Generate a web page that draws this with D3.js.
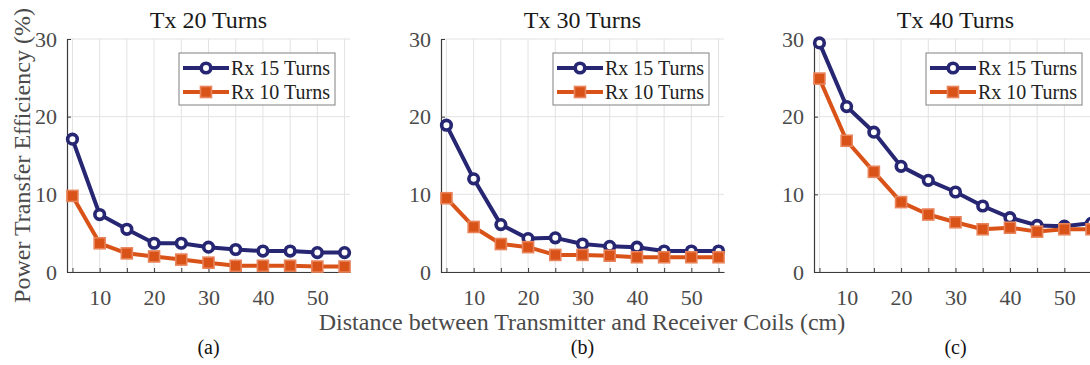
<!DOCTYPE html>
<html>
<head>
<meta charset="utf-8">
<script src="https://cdn.jsdelivr.net/npm/d3@7/dist/d3.min.js"></script>
<style>
  html, body { margin: 0; padding: 0; background: #fff; }
  svg { display: block; }
  text { font-family: "Liberation Serif", "Times New Roman", serif; }
</style>
</head>
<body>
<svg id="chart" width="1090" height="365"></svg>
<script>
// Distances between coils (cm)
const distances = [5, 10, 15, 20, 25, 30, 35, 40, 45, 50, 55];

// Efficiency (%) for each transmitter coil, per receiver coil
const tx20Rx15 = [17.1, 7.4, 5.5, 3.7, 3.7, 3.2, 2.9, 2.7, 2.7, 2.5, 2.5];
const tx20Rx10 = [9.8, 3.7, 2.4, 2.0, 1.6, 1.2, 0.8, 0.8, 0.8, 0.7, 0.7];
const tx30Rx15 = [18.9, 12.0, 6.1, 4.3, 4.4, 3.6, 3.3, 3.2, 2.7, 2.7, 2.7];
const tx30Rx10 = [9.5, 5.8, 3.6, 3.2, 2.2, 2.2, 2.1, 1.9, 1.9, 1.9, 1.9];
const tx40Rx15 = [29.5, 21.3, 18.0, 13.6, 11.8, 10.3, 8.5, 7.0, 6.0, 5.9, 6.3];
const tx40Rx10 = [24.9, 16.9, 12.9, 9.0, 7.4, 6.4, 5.5, 5.7, 5.2, 5.5, 5.5];

const panelTitles = ["Tx 20 Turns", "Tx 30 Turns", "Tx 40 Turns"];
const panelCaptions = ["(a)", "(b)", "(c)"];
const seriesNames = ["Rx 15 Turns", "Rx 10 Turns"];
const xTicks = [5, 10, 15, 20, 25, 30, 35, 40, 45, 50, 55];
const xTickLabels = ["", "10", "", "20", "", "30", "", "40", "", "50", ""];
const yTicks = [0, 10, 20, 30];
const yLabel = "Power Transfer Efficiency (%)";
const xLabel = "Distance between Transmitter and Receiver Coils (cm)";

const panels = [
  { title: panelTitles[0], caption: panelCaptions[0], series: [tx20Rx15, tx20Rx10] },
  { title: panelTitles[1], caption: panelCaptions[1], series: [tx30Rx15, tx30Rx10] },
  { title: panelTitles[2], caption: panelCaptions[2], series: [tx40Rx15, tx40Rx10] }
];

// Styling
const NAVY = "#262673";
const ORANGE = "#D95319";
const colors = [NAVY, ORANGE];
const GRID = "#e2e2e2";
const AXIS = "#3a3a3a";
const TICK_TEXT = "#4a4a4a";

const svg = d3.select("#chart");
svg.append("rect").attr("width", 1090).attr("height", 365).attr("fill", "#fff");

const panelLefts = [67, 441, 814];
const plotW = 283, plotTop = 39, plotBottom = 272;

const x = d3.scaleLinear().domain([4, 56]).range([0, plotW]);
const y = d3.scaleLinear().domain([0, 30]).range([plotBottom - plotTop, 0]);

const line = d3.line().x((d, i) => x(distances[i])).y(d => y(d));

function drawCircle(g, cx, cy) {
  g.append("circle").attr("cx", cx).attr("cy", cy).attr("r", 4.8)
    .attr("fill", "#fff").attr("stroke", NAVY).attr("stroke-width", 3.6);
}
function drawSquare(g, cx, cy) {
  const s = 11;
  g.append("rect").attr("x", cx - s / 2).attr("y", cy - s / 2)
    .attr("width", s).attr("height", s)
    .attr("fill", ORANGE).attr("stroke", "#e8835a").attr("stroke-width", 1.6);
}
const markerFns = [drawCircle, drawSquare];

panels.forEach((p, pi) => {
  const g = svg.append("g").attr("transform", `translate(${panelLefts[pi]},${plotTop})`);
  const h = plotBottom - plotTop;

  // grid
  g.append("g").selectAll("line").data(xTicks).join("line")
    .attr("x1", d => x(d)).attr("x2", d => x(d)).attr("y1", 0).attr("y2", h)
    .attr("stroke", GRID).attr("stroke-width", 1);
  g.append("g").selectAll("line").data(yTicks).join("line")
    .attr("x1", 0).attr("x2", plotW).attr("y1", d => y(d)).attr("y2", d => y(d))
    .attr("stroke", GRID).attr("stroke-width", 1);

  // axes (ticks pointing inward)
  const xAxis = d3.axisBottom(x).tickValues(xTicks)
    .tickFormat((d, i) => xTickLabels[i]).tickSizeInner(-4).tickSizeOuter(0).tickPadding(12);
  const gx = g.append("g").attr("transform", `translate(0,${h})`).call(xAxis);
  gx.select(".domain").attr("stroke", AXIS).attr("stroke-width", 1.2);
  gx.selectAll(".tick line").attr("stroke", AXIS);
  gx.selectAll(".tick text").attr("font-size", 22).attr("fill", TICK_TEXT)
    .attr("font-family", "Liberation Serif").attr("dy", "0.95em");

  const yAxis = d3.axisLeft(y).tickValues(yTicks).tickFormat(d3.format("d"))
    .tickSizeInner(-4).tickSizeOuter(0).tickPadding(10);
  const gy = g.append("g").call(yAxis);
  gy.select(".domain").attr("stroke", AXIS).attr("stroke-width", 1.2);
  gy.selectAll(".tick line").attr("stroke", AXIS);
  gy.selectAll(".tick text").attr("font-size", 22).attr("fill", TICK_TEXT)
    .attr("font-family", "Liberation Serif");

  // series lines and markers
  p.series.forEach((vals, si) => {
    const sg = g.append("g");
    sg.append("path").datum(vals).attr("d", line)
      .attr("fill", "none").attr("stroke", colors[si]).attr("stroke-width", 4)
      .attr("stroke-linejoin", "round");
    vals.forEach((v, i) => markerFns[si](sg, x(distances[i]), y(v)));
  });

  // title
  g.append("text").attr("x", plotW / 2).attr("y", 28 - plotTop)
    .attr("text-anchor", "middle").attr("font-size", 24).attr("fill", "#1a1a1a")
    .text(p.title);

  // legend
  const lg = g.append("g").attr("transform", `translate(${plotW - 15 - 156},${53 - plotTop})`);
  lg.append("rect").attr("width", 156).attr("height", 52)
    .attr("fill", "#fff").attr("stroke", "#808080").attr("stroke-width", 1);
  seriesNames.forEach((name, si) => {
    const cy = 15 + si * 24;
    lg.append("line").attr("x1", 4).attr("x2", 50).attr("y1", cy).attr("y2", cy)
      .attr("stroke", colors[si]).attr("stroke-width", 4);
    markerFns[si](lg, 27, cy);
    lg.append("text").attr("x", 52).attr("y", cy).attr("dy", "0.34em")
      .attr("font-size", 20).attr("fill", "#222").text(name);
  });

  // caption
  svg.append("text").attr("x", panelLefts[pi] + plotW / 2).attr("y", 354)
    .attr("text-anchor", "middle").attr("font-size", 20).attr("fill", "#111")
    .text(p.caption);
});

// shared axis labels
svg.append("text")
  .attr("transform", `translate(30,${(plotTop + plotBottom) / 2}) rotate(-90)`)
  .attr("text-anchor", "middle").attr("font-size", 24).attr("fill", TICK_TEXT)
  .text(yLabel);

svg.append("text").attr("x", 582).attr("y", 330)
  .attr("text-anchor", "middle").attr("font-size", 24).attr("fill", TICK_TEXT)
  .text(xLabel);
</script>
</body>
</html>
